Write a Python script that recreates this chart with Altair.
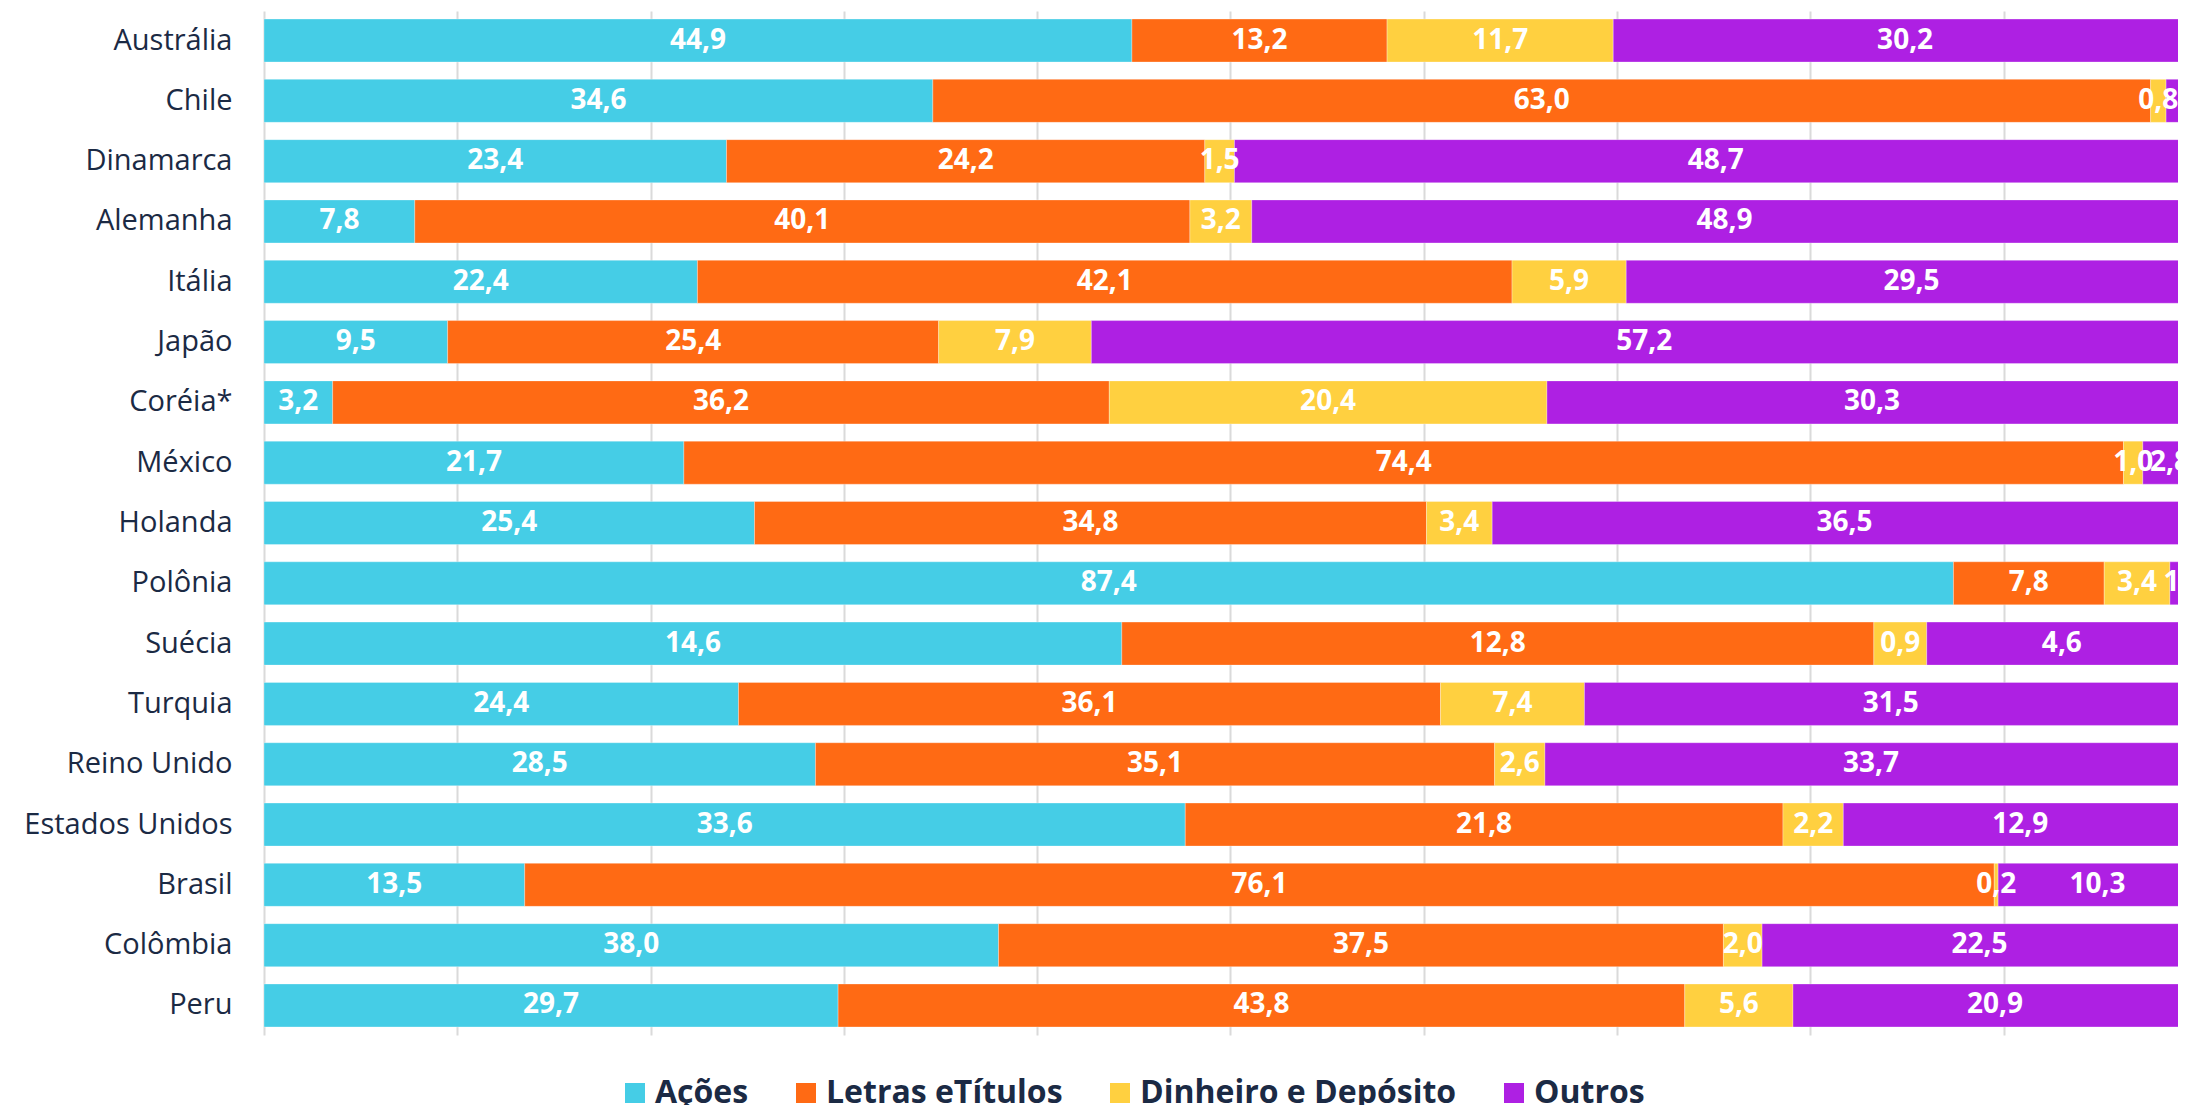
import altair as alt
import pandas as pd

countries = ["Austrália", "Chile", "Dinamarca", "Alemanha", "Itália", "Japão", "Coréia*", "México",
             "Holanda", "Polônia", "Suécia", "Turquia", "Reino Unido", "Estados Unidos", "Brasil",
             "Colômbia", "Peru"]
categories = ["Ações", "Letras eTítulos", "Dinheiro e Depósito", "Outros"]
acoes = [44.9, 34.6, 23.4, 7.8, 22.4, 9.5, 3.2, 21.7, 25.4, 87.4, 14.6, 24.4, 28.5, 33.6, 13.5, 38.0, 29.7]
letras = [13.2, 63.0, 24.2, 40.1, 42.1, 25.4, 36.2, 74.4, 34.8, 7.8, 12.8, 36.1, 35.1, 21.8, 76.1, 37.5, 43.8]
dinheiro = [11.7, 0.8, 1.5, 3.2, 5.9, 7.9, 20.4, 1.0, 3.4, 3.4, 0.9, 7.4, 2.6, 2.2, 0.2, 2.0, 5.6]
outros = [30.2, 1.6, 48.7, 48.9, 29.5, 57.2, 30.3, 2.8, 36.5, 1.4, 4.6, 31.5, 33.7, 12.9, 10.3, 22.5, 20.9]
colors = ["#45CDE6", "#FF6A14", "#FFD040", "#AE20E3"]
hidden_labels = [("Chile", "Outros")]
grid_values = [0, 0.1, 0.2, 0.3, 0.4, 0.5, 0.6, 0.7, 0.8, 0.9]

series = [acoes, letras, dinheiro, outros]
rows = []
for ci, c in enumerate(countries):
    for k, cat in enumerate(categories):
        rows.append({"country": c, "cat": cat, "idx": k, "v": series[k][ci],
                     "show": (c, cat) not in hidden_labels})
df = pd.DataFrame(rows)

PLOT_W = 1914
FULL_W = 1933
x_scale = alt.Scale(domain=[0, PLOT_W / FULL_W], nice=False, zero=False)
y_enc = alt.Y("country:N", sort=countries, title=None,
              scale=alt.Scale(paddingInner=0.287, paddingOuter=0.133),
              axis=alt.Axis(labelFont="Open Sans", labelFontSize=29, labelColor="#1B2A44",
                            labelPadding=32, ticks=False, domain=False, grid=False, labelAlign="right",
                            labelLimit=400))

base = alt.Chart(df).transform_joinaggregate(
    total="sum(v)", groupby=["country"]
).transform_window(
    cum="sum(v)", sort=[alt.SortField("idx")], groupby=["country"], frame=[None, 0]
).transform_calculate(
    x0="(datum.cum - datum.v) / datum.total",
    x1="datum.cum / datum.total",
    mid="(datum.cum - datum.v / 2) / datum.total",
    lab="replace(format(datum.v, '.1f'), '.', ',')"
)

bars = base.mark_bar(clip=True, stroke="white", strokeWidth=0.6, strokeOpacity=0.5).encode(
    y=y_enc,
    x=alt.X("x0:Q", scale=x_scale, title=None,
            axis=alt.Axis(values=grid_values, labels=False, ticks=False, domain=False, grid=True,
                          gridColor="#DADADA", gridWidth=2)),
    x2="x1:Q",
    color=alt.Color("cat:N", scale=alt.Scale(domain=categories, range=colors),
                    legend=alt.Legend(title=None, orient="none", direction="horizontal",
                                      legendX=355, legendY=1066, symbolType="square", symbolSize=400,
                                      symbolStrokeWidth=0, labelFont="Open Sans", labelFontSize=32,
                                      labelFontWeight="bold", labelColor="#1B2A44", labelOffset=4,
                                      columnPadding=41, padding=0, labelLimit=600)),
)

labels = base.transform_filter("datum.show").mark_text(
    clip=True, font="Open Sans", fontSize=28, fontWeight="bold", color="white", align="center", baseline="middle"
).encode(
    y=alt.Y("country:N", sort=countries),
    x=alt.X("mid:Q", scale=x_scale),
    text="lab:N",
)

chart = alt.layer(bars, labels).properties(
    width=PLOT_W, height=1024,
    padding={"left": 256, "top": 3, "right": 0, "bottom": 70},
    autosize=alt.AutoSizeParams(type="none"),
).configure_view(stroke=None)

chart.save("out.html", embed_options={"renderer": "svg", "actions": False})
